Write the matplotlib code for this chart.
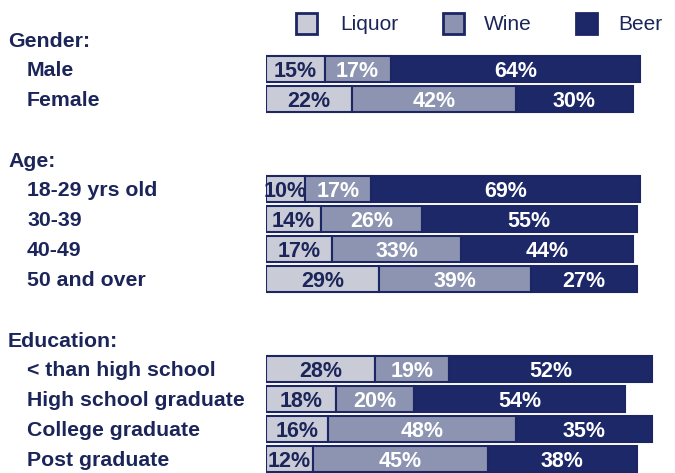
import matplotlib
matplotlib.use("Agg")
import matplotlib.pyplot as plt
from matplotlib.patches import Rectangle
import matplotlib.transforms as mtransforms

# ---- data ----
groups = ["Gender:", "Age:", "Education:"]
categories = [
    ["Male", "Female"],
    ["18-29 yrs old", "30-39", "40-49", "50 and over"],
    ["< than high school", "High school graduate", "College graduate", "Post graduate"],
]
series_names = ["Liquor", "Wine", "Beer"]
liquor = [15, 22, 10, 14, 17, 29, 28, 18, 16, 12]
wine = [17, 42, 17, 26, 33, 39, 19, 20, 48, 45]
beer = [64, 30, 69, 55, 44, 27, 52, 54, 35, 38]

# ---- style ----
NAVY = "#1c2664"
TEXT = "#1b2559"
COLORS = ["#c9ccd6", "#8c94b1", "#1d2869"]
LABEL_COLORS = [TEXT, "white", "white"]
plt.rcParams["font.family"] = ["Liberation Sans", "DejaVu Sans"]

W, H = 675, 473
fig = plt.figure(figsize=(W / 100, H / 100), dpi=100)
fig.patch.set_facecolor("white")

x0_px = 266
px_per_pct = 3.9
y0_px = 69
row_px = 30

ax = fig.add_axes([x0_px / W, 0, (W - x0_px) / W, 1])
ax.set_xlim(0, (W - x0_px) / px_per_pct)
ax.set_ylim((H - y0_px) / row_px, -y0_px / row_px)
ax.axis("off")

# slot positions: groups separated by a gap of 3 slots (header in the middle)
slots = []
header_slots = []
s = 0
for gi, cats in enumerate(categories):
    if gi > 0:
        s += 2
    header_slots.append(s - 1)
    for c in cats:
        slots.append(s)
        s += 1

series = [liquor, wine, beer]
left = [0] * len(liquor)
for si, vals in enumerate(series):
    ax.barh(slots, vals, left=left, height=0.88, color=COLORS[si],
            edgecolor=NAVY, linewidth=1.5)
    for y, l, v in zip(slots, left, vals):
        ax.text(l + v / 2, y + 0.08, f"{v}%", ha="center", va="center",
                color=LABEL_COLORS[si], fontsize=15.5, fontweight="bold")
    left = [a + b for a, b in zip(left, vals)]

trans = mtransforms.blended_transform_factory(fig.transFigure, ax.transData)
flat = [c for cats in categories for c in cats]
for y, name in zip(slots, flat):
    ax.text(27 / W, y + 0.06, name, transform=trans, ha="left", va="center",
            color=TEXT, fontsize=15.3, fontweight="bold")
for y, g in zip(header_slots, groups):
    ax.text(8 / W, y + 0.08, g, transform=trans, ha="left", va="center",
            color=TEXT, fontsize=15.3, fontweight="bold")

# ---- legend ----
leg_sq_x = [296, 443, 576]
leg_txt_x = [340, 484, 618]
sq = 21
leg_y = 24
for i, name in enumerate(series_names):
    fig.add_artist(Rectangle((leg_sq_x[i] / W, (H - leg_y - sq / 2) / H), sq / W, sq / H,
                             transform=fig.transFigure, facecolor=COLORS[i],
                             edgecolor=NAVY, linewidth=2))
    fig.text(leg_txt_x[i] / W, (H - leg_y) / H, name, ha="left", va="center",
             color=TEXT, fontsize=15)

fig.savefig("out.png", dpi=100, facecolor="white")
